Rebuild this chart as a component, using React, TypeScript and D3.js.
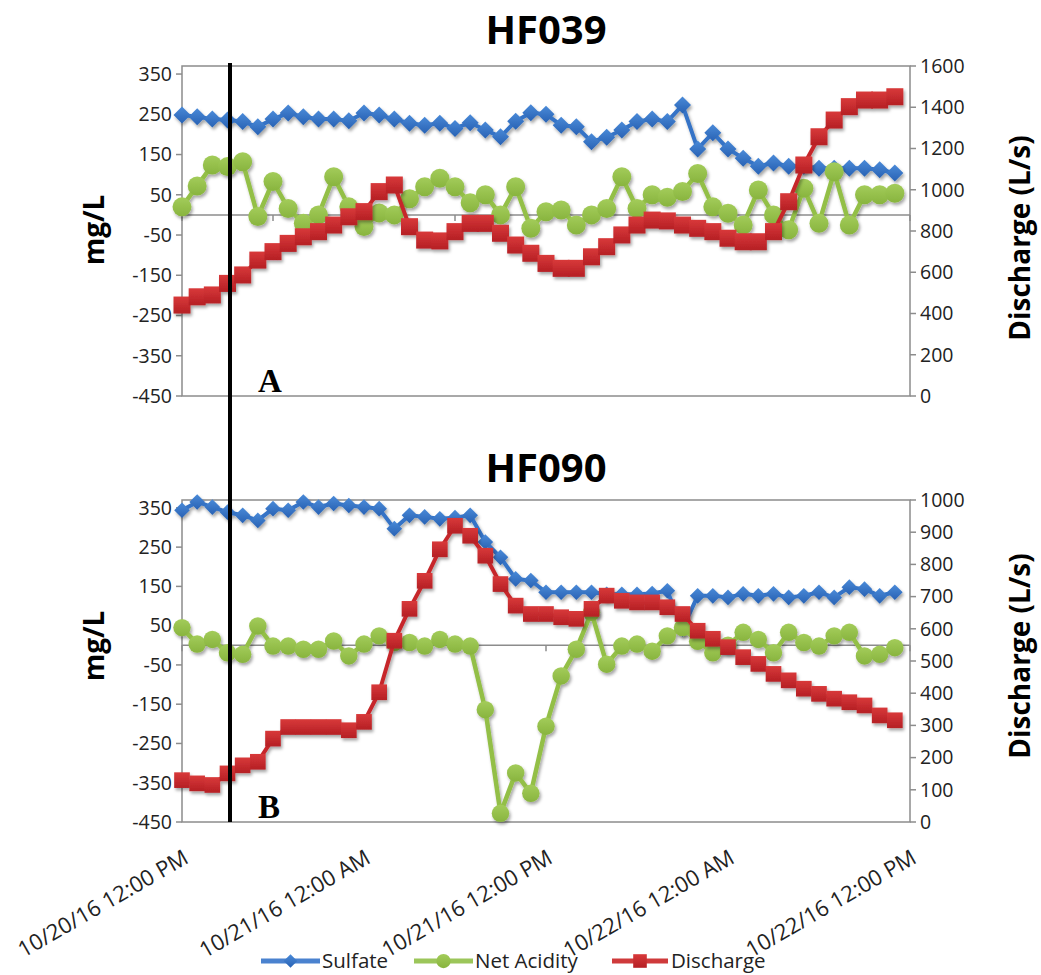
import React from "react";
import * as d3 from "d3";

// ---------- DATA ----------
const sampleHours = d3.range(48); // hourly samples starting 10/20/16 12:00 PM
const xTickHours = [0, 12, 24, 36, 48];
const xTickLabels = [
  "10/20/16 12:00 PM",
  "10/21/16 12:00 AM",
  "10/21/16 12:00 PM",
  "10/22/16 12:00 AM",
  "10/22/16 12:00 PM",
];
const leftTicks = [-450, -350, -250, -150, -50, 50, 150, 250, 350];
const seriesNames = ["Sulfate", "Net Acidity", "Discharge"];

const hf039Sulfate = [248,244,238,236,232,219,238,253,244,238,238,234,253,248,238,228,223,228,215,229,211,194,233,254,250,223,219,182,193,211,232,238,232,273,164,204,164,141,121,129,121,121,116,116,116,116,112,104];
const hf039Acidity = [20,72,124,120,132,-4,83,16,-21,0,95,20,-29,5,0,40,70,91,70,30,50,0,70,-33,8,12,-25,0,16,95,16,50,44,58,103,20,4,-25,62,0,-37,66,-21,107,-25,50,50,54];
const hf039Discharge = [441,481,490,546,587,659,700,740,772,797,829,869,894,991,1023,821,756,752,797,837,837,789,732,692,643,619,619,675,724,781,829,853,849,829,813,797,765,748,748,797,942,1120,1257,1338,1403,1435,1435,1451];
const hf039RightTicks = [0, 200, 400, 600, 800, 1000, 1200, 1400, 1600];

const hf090Sulfate = [344,365,352,339,331,318,348,344,365,352,361,356,352,348,297,331,327,322,325,331,263,224,169,165,135,135,135,135,130,130,130,132,139,41,126,126,122,131,126,131,122,126,135,122,148,143,126,135];
const hf090Acidity = [45,3,15,-19,-23,49,-2,-2,-10,-10,11,-27,3,24,7,7,-2,15,3,-2,-164,-428,-325,-377,-206,-78,-10,84,-48,-2,3,-15,24,45,10,-19,0,33,15,-19,33,7,-2,24,33,-27,-23,-6];
const hf090Discharge = [130,120,115,151,176,187,259,295,295,295,295,285,311,403,563,662,749,847,920,889,827,739,672,646,646,636,631,662,703,687,682,682,667,646,594,569,543,512,491,460,440,414,398,383,372,362,331,316];
const hf090RightTicks = [0, 100, 200, 300, 400, 500, 600, 700, 800, 900, 1000];

// ---------- LAYOUT / STYLE ----------
const W = 1041;
const H = 975;
const X0 = 182;
const X1 = 910;
const FONT = "'Open Sans', 'Noto Sans', sans-serif";
const AXIS_GRAY = "#8c8c8c";
const C_BLUE = "#3473c6";
const C_GREEN = "#93bf47";
const C_RED = "#c6282b";

const panels = [
  { title: "HF039", titleY: 44, top: 66, bottom: 396, rightMax: 1600, rightTicks: hf039RightTicks,
    sulfate: hf039Sulfate, acidity: hf039Acidity, discharge: hf039Discharge, scale: 1, mgY: 230, dischY: 238, letter: "A" },
  { title: "HF090", titleY: 482, top: 500, bottom: 822, rightMax: 1000, rightTicks: hf090RightTicks,
    sulfate: hf090Sulfate, acidity: hf090Acidity, discharge: hf090Discharge, scale: 0.92, mgY: 646, dischY: 656, letter: "B" },
];

const x = d3.scaleLinear().domain([0, 48]).range([X0, X1]);

function Diamond({ cx, cy, s }: { cx: number; cy: number; s: number }) {
  const w = 8.5 * s, h = 8.5 * s;
  return <path d={`M${cx},${cy - h}L${cx + w},${cy}L${cx},${cy + h}L${cx - w},${cy}Z`} fill="url(#gBlue)" />;
}
function Dot({ cx, cy, s }: { cx: number; cy: number; s: number }) {
  return <circle cx={cx} cy={cy} r={9.5 * s} fill="url(#gGreen)" />;
}
function Square({ cx, cy, s }: { cx: number; cy: number; s: number }) {
  const a = 8.5 * s;
  return <rect x={cx - a} y={cy - a} width={2 * a} height={2 * a} fill="url(#gRed)" />;
}

function Panel({ p }: { p: any }) {
  const yL = d3.scaleLinear().domain([-450, 370]).range([p.bottom, p.top]);
  const yR = d3.scaleLinear().domain([0, p.rightMax]).range([p.bottom, p.top]);
  const lineL = d3.line<number>().x((_, i) => x(sampleHours[i])).y((d) => yL(d));
  const lineR = d3.line<number>().x((_, i) => x(sampleHours[i])).y((d) => yR(d));
  const zeroY = yL(0);
  const minorTicks = d3.range(0, 49, 6);
  return (
    <g>
      <text x={546} y={p.titleY} textAnchor="middle" fontFamily={FONT} fontWeight={700} fontSize={40} fill="#000">
        {p.title}
      </text>
      <rect x={X0} y={p.top} width={X1 - X0} height={p.bottom - p.top} fill="none" stroke={AXIS_GRAY} strokeWidth={1.5} />
      <line x1={X0} x2={X1} y1={zeroY} y2={zeroY} stroke={AXIS_GRAY} strokeWidth={1.5} />
      {minorTicks.map((h) => (
        <line key={h} x1={x(h)} x2={x(h)} y1={zeroY} y2={zeroY + 6} stroke={AXIS_GRAY} strokeWidth={1.5} />
      ))}
      {leftTicks.map((t) => (
        <g key={t}>
          <line x1={X0 - 6} x2={X0} y1={yL(t)} y2={yL(t)} stroke={AXIS_GRAY} strokeWidth={1.5} />
          <text x={X0 - 10} y={yL(t)} dy="0.35em" textAnchor="end" fontFamily={FONT} fontSize={19.5} fill="#222">
            {t}
          </text>
        </g>
      ))}
      {p.rightTicks.map((t: number) => (
        <g key={t}>
          <line x1={X1} x2={X1 + 6} y1={yR(t)} y2={yR(t)} stroke={AXIS_GRAY} strokeWidth={1.5} />
          <text x={X1 + 10} y={yR(t)} dy="0.35em" textAnchor="start" fontFamily={FONT} fontSize={19.5} fill="#222">
            {t}
          </text>
        </g>
      ))}
      <text transform={`translate(104,${p.mgY}) rotate(-90)`} textAnchor="middle" fontFamily={FONT} fontWeight={700} fontSize={28} fill="#000">
        mg/L
      </text>
      <text transform={`translate(1030,${p.dischY}) rotate(-90)`} textAnchor="middle" fontFamily={FONT} fontWeight={700} fontSize={28} fill="#000">
        Discharge (L/s)
      </text>
      <g filter="url(#shadow)">
        <path d={lineL(p.sulfate) || ""} fill="none" stroke={C_BLUE} strokeWidth={4} strokeLinejoin="round" />
        {p.sulfate.map((v: number, i: number) => (
          <Diamond key={i} cx={x(sampleHours[i])} cy={yL(v)} s={p.scale} />
        ))}
      </g>
      <g filter="url(#shadow)">
        <path d={lineL(p.acidity) || ""} fill="none" stroke={C_GREEN} strokeWidth={4.5} strokeLinejoin="round" />
        {p.acidity.map((v: number, i: number) => (
          <Dot key={i} cx={x(sampleHours[i])} cy={yL(v)} s={p.scale} />
        ))}
      </g>
      <g filter="url(#shadow)">
        <path d={lineR(p.discharge) || ""} fill="none" stroke={C_RED} strokeWidth={4} strokeLinejoin="round" />
        {p.discharge.map((v: number, i: number) => (
          <Square key={i} cx={x(sampleHours[i])} cy={yR(v)} s={p.scale} />
        ))}
      </g>
      <text x={258} y={p.bottom - 4} fontFamily="'Liberation Serif', serif" fontWeight={700} fontSize={33} fill="#000">
        {p.letter}
      </text>
    </g>
  );
}

export default function App() {
  const legendItems = [
    { name: seriesNames[0], x0: 261, x1: 320, tx: 322, kind: "d" },
    { name: seriesNames[1], x0: 414, x1: 473, tx: 475, kind: "c" },
    { name: seriesNames[2], x0: 612, x1: 668, tx: 671, kind: "s" },
  ];
  const ly = 961;
  return (
    <svg width={W} height={H} style={{ position: "absolute", left: 0, top: 0, background: "#fff" }}>
      <defs>
        <linearGradient id="gBlue" x1="0" y1="0" x2="0" y2="1">
          <stop offset="0" stopColor="#4a8ad8" />
          <stop offset="1" stopColor="#2862b4" />
        </linearGradient>
        <linearGradient id="gGreen" x1="0" y1="0" x2="0" y2="1">
          <stop offset="0" stopColor="#a3cc5a" />
          <stop offset="1" stopColor="#88b43e" />
        </linearGradient>
        <linearGradient id="gRed" x1="0" y1="0" x2="0" y2="1">
          <stop offset="0" stopColor="#d8393a" />
          <stop offset="1" stopColor="#b51f24" />
        </linearGradient>
        <filter id="shadow" x="-10%" y="-20%" width="130%" height="150%">
          <feDropShadow dx="1.5" dy="2.5" stdDeviation="1.8" floodColor="#000" floodOpacity="0.35" />
        </filter>
      </defs>
      <rect x={0} y={0} width={W} height={H} fill="#fff" />
      {panels.map((p) => (
        <Panel key={p.title} p={p} />
      ))}
      <line x1={230} x2={230} y1={63} y2={822} stroke="#000" strokeWidth={4} />
      {xTickHours.map((h, i) => (
        <text
          key={h}
          transform={`translate(${x(h) + 8},${862}) rotate(-30)`}
          textAnchor="end"
          fontFamily={FONT}
          fontSize={22}
          fill="#222"
        >
          {xTickLabels[i]}
        </text>
      ))}
      {legendItems.map((it) => {
        const mx = (it.x0 + it.x1) / 2;
        const col = it.kind === "d" ? "#4a82cf" : it.kind === "c" ? "#9cc65a" : "#cf3a3b";
        return (
          <g key={it.name}>
            <line x1={it.x0} x2={it.x1} y1={ly} y2={ly} stroke={col} strokeWidth={5} />
            {it.kind === "d" && <Diamond cx={mx} cy={ly} s={0.8} />}
            {it.kind === "c" && <Dot cx={mx} cy={ly} s={0.75} />}
            {it.kind === "s" && <Square cx={mx} cy={ly} s={0.8} />}
            <text x={it.tx} y={ly} dy="0.35em" fontFamily={FONT} fontSize={20.5} fill="#222">
              {it.name}
            </text>
          </g>
        );
      })}
    </svg>
  );
}
